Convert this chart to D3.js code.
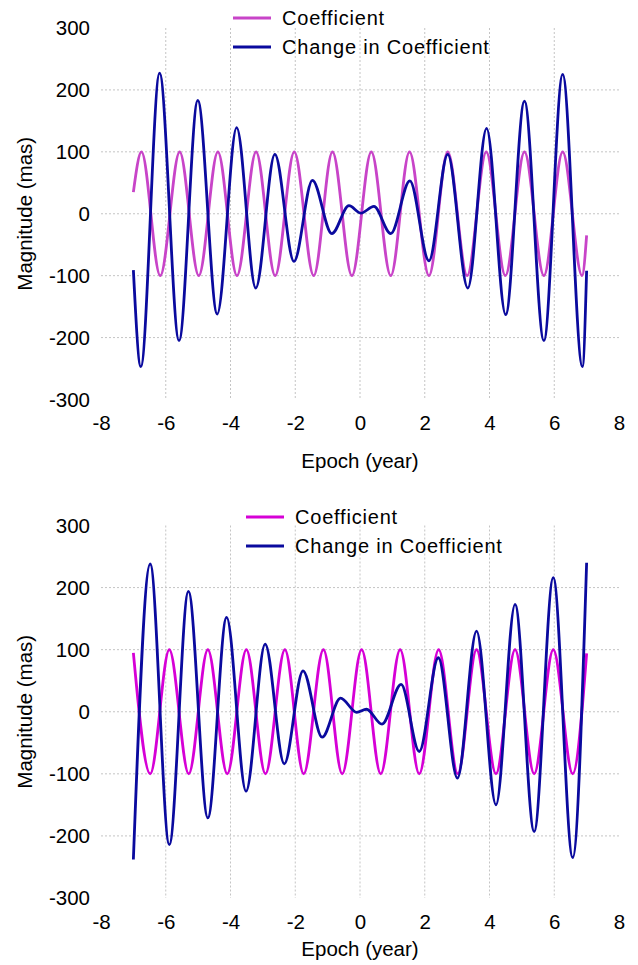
<!DOCTYPE html>
<html>
<head>
<meta charset="utf-8">
<script src="https://cdn.jsdelivr.net/npm/d3@7"></script>
<style>
  body { margin: 0; background: #fff; }
  svg text { font-family: "Liberation Sans", Arial, Helvetica, sans-serif; fill: #000; }
  .grid line { stroke: #c4c4c4; stroke-width: 1; stroke-dasharray: 2,2; }
</style>
</head>
<body>
<svg id="chart" width="638" height="965"></svg>
<script>
// tick values and legend names
const xTicks = [-8, -6, -4, -2, 0, 2, 4, 6, 8];
const yTicks = [-300, -200, -100, 0, 100, 200, 300];
const seriesNames = ["Coefficient", "Change in Coefficient"];

// top panel, values (turning points + end points)
const topCoefEpoch = [-7, -6.75, -6.17, -5.57, -4.98, -4.39, -3.80, -3.21, -2.62, -2.03, -1.43, -0.85, -0.25,
  0.35, 0.95, 1.53, 2.13, 2.71, 3.31, 3.90, 4.49, 5.08, 5.68, 6.26, 6.86, 7];
const topCoefValue = [35, 100, -100, 100, -100, 100, -100, 100, -100, 100, -100, 100, -100,
  100, -100, 100, -100, 100, -100, 100, -100, 100, -100, 100, -100, -35];
const topChangeEpoch = [-7, -6.77, -6.19, -5.59, -5.01, -4.41, -3.81, -3.22, -2.63, -2.04, -1.47, -0.87, -0.34,
  0.03, 0.43, 0.95, 1.54, 2.13, 2.71, 3.33, 3.91, 4.50, 5.08, 5.68, 6.26, 6.87, 7];
const topChangeValue = [-91, -247, 227, -205, 183, -162, 139, -120, 96, -77, 54, -32, 13,
  1, 12, -32, 53, -76, 96, -120, 138, -163, 182, -205, 225, -247, -92];

// bottom panel
const botCoefEpoch = [-7, -6.48, -5.89, -5.29, -4.70, -4.10, -3.51, -2.92, -2.32, -1.74, -1.13, -0.55,
  0.05, 0.64, 1.24, 1.83, 2.43, 3.02, 3.60, 4.20, 4.79, 5.38, 5.97, 6.57, 7];
const botCoefValue = [95, -100, 100, -100, 100, -100, 100, -100, 100, -100, 100, -100,
  100, -100, 100, -100, 100, -100, 100, -100, 100, -100, 100, -100, 94];
const botChangeEpoch = [-7, -6.48, -5.89, -5.30, -4.70, -4.12, -3.52, -2.93, -2.34, -1.76, -1.17, -0.60,
  -0.10, 0.20, 0.68, 1.27, 1.83, 2.42, 3.01, 3.60, 4.20, 4.79, 5.38, 5.97, 6.57, 7];
const botChangeValue = [-238, 238, -214, 194, -171, 152, -128, 109, -84, 66, -41, 22,
  -1, 4, -20, 44, -64, 87, -107, 130, -150, 173, -193, 216, -235, 240];

const svg = d3.select("#chart");
const x = d3.scaleLinear().domain([-8, 8]).range([101, 619]);

function zip(xs, ys) {
  return xs.map((d, i) => ({ t: d, v: ys[i] }));
}

function drawPanel(p) {
  const y = d3.scaleLinear().domain([-300, 300]).range(p.yRange);
  const g = svg.append("g");

  // dashed grid, inner ticks only
  const grid = g.append("g").attr("class", "grid");
  grid.selectAll(".v")
    .data(xTicks.filter(d => d > -8 && d < 8))
    .join("line")
    .attr("x1", d => x(d)).attr("x2", d => x(d))
    .attr("y1", y(300)).attr("y2", y(-300));
  grid.selectAll(".h")
    .data(yTicks.filter(d => d > -300 && d < 300))
    .join("line")
    .attr("x1", x(-8)).attr("x2", x(8))
    .attr("y1", d => y(d)).attr("y2", d => y(d));

  // axes: labels only, plain hyphen minus
  const fmt = d => String(d);
  const yAxis = g.append("g")
    .attr("transform", "translate(" + x(-8) + ",0)")
    .call(d3.axisLeft(y).tickValues(yTicks).tickFormat(fmt).tickSize(0).tickPadding(11));
  const xAxis = g.append("g")
    .attr("transform", "translate(0," + y(-300) + ")")
    .call(d3.axisBottom(x).tickValues(xTicks).tickFormat(fmt).tickSize(0).tickPadding(16));
  [yAxis, xAxis].forEach(a => {
    a.select(".domain").remove();
    a.selectAll("text").attr("font-size", 20.5).attr("font-family", null);
  });

  g.append("text")
    .attr("x", x(0)).attr("y", p.titleY)
    .attr("text-anchor", "middle").attr("dy", "0.35em")
    .attr("font-size", 20.5)
    .text("Epoch (year)");
  g.append("text")
    .attr("transform", "translate(25," + y(0) + ") rotate(-90)")
    .attr("text-anchor", "middle").attr("dy", "0.35em")
    .attr("font-size", 20.5)
    .text("Magnitude (mas)");

  const line = d3.line()
    .x(d => x(d.t))
    .y(d => y(d.v))
    .curve(d3.curveMonotoneX);

  g.append("path")
    .datum(zip(p.coefEpoch, p.coefValue))
    .attr("fill", "none")
    .attr("stroke", p.coefColor)
    .attr("stroke-width", 2.8)
    .attr("d", line);
  g.append("path")
    .datum(zip(p.changeEpoch, p.changeValue))
    .attr("fill", "none")
    .attr("stroke", "#0a0a9e")
    .attr("stroke-width", 2.8)
    .attr("d", line);

  // legend
  const colors = [p.coefColor, "#0a0a9e"];
  const leg = g.append("g");
  seriesNames.forEach((name, i) => {
    const ly = p.legendY + i * 29;
    leg.append("line")
      .attr("x1", p.legendX).attr("x2", p.legendX + 38)
      .attr("y1", ly).attr("y2", ly)
      .attr("stroke", colors[i]).attr("stroke-width", 2.8);
    leg.append("text")
      .attr("x", p.legendX + 49).attr("y", ly)
      .attr("dy", "0.35em")
      .attr("font-size", 20)
      .attr("letter-spacing", 0.8)
      .text(name);
  });
}

drawPanel({
  yRange: [399.5, 28],
  titleY: 461,
  legendX: 233, legendY: 18,
  coefColor: "#c844c8",
  coefEpoch: topCoefEpoch, coefValue: topCoefValue,
  changeEpoch: topChangeEpoch, changeValue: topChangeValue
});

drawPanel({
  yRange: [898, 525.5],
  titleY: 949,
  legendX: 246, legendY: 517,
  coefColor: "#d600d6",
  coefEpoch: botCoefEpoch, coefValue: botCoefValue,
  changeEpoch: botChangeEpoch, changeValue: botChangeValue
});
</script>
</body>
</html>
